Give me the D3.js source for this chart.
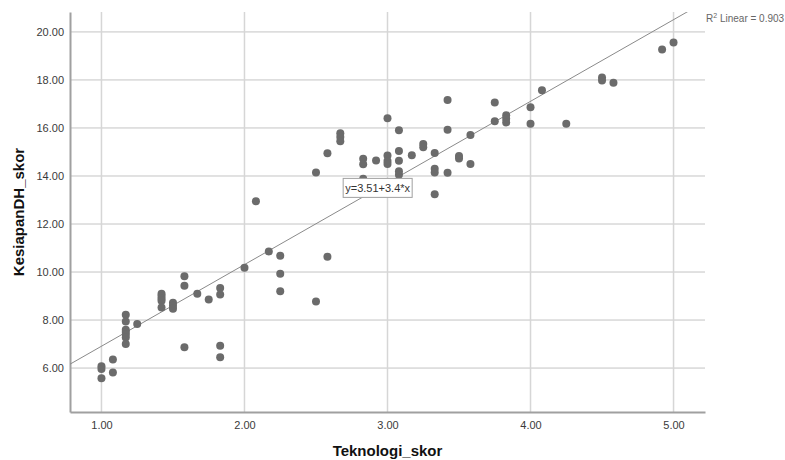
<!DOCTYPE html>
<html>
<head>
<meta charset="utf-8">
<script src="https://cdn.jsdelivr.net/npm/d3@7"></script>
<style>
  body { margin: 0; background: #fff; }
  text { font-family: "Liberation Sans", Arial, sans-serif; }
</style>
</head>
<body>
<div class="canvas"></div>
<script>
// data
const teknologi = [
    1.00, 1.00, 1.00, 1.08, 1.08,
    1.17, 1.17, 1.17, 1.17, 1.17, 1.17, 1.17, 1.25,
    1.42, 1.42, 1.42, 1.42, 1.42, 1.50, 1.50, 1.50,
    1.58, 1.58, 1.58, 1.67, 1.75, 1.83, 1.83, 1.83, 1.83,
    2.00, 2.08, 2.17, 2.25, 2.25, 2.25, 2.50, 2.50, 2.58, 2.58,
    2.67, 2.67, 2.67, 2.83, 2.83, 2.83, 2.92,
    3.00, 3.00, 3.00, 3.00, 3.08, 3.08, 3.08, 3.08, 3.08,
    3.17, 3.25, 3.25, 3.33, 3.33, 3.33, 3.33, 3.42, 3.42, 3.42,
    3.50, 3.50, 3.58, 3.58, 3.75, 3.75, 3.83, 3.83, 3.83,
    4.00, 4.00, 4.08, 4.25, 4.50, 4.50, 4.58, 4.92, 5.00
];
const kesiapan = [
    6.08, 5.96, 5.58, 6.36, 5.82,
    8.22, 7.94, 7.60, 7.50, 7.40, 7.27, 7.00, 7.83,
    9.10, 9.00, 8.90, 8.80, 8.52, 8.72, 8.60, 8.47,
    9.82, 9.43, 6.87, 9.10, 8.86, 9.33, 9.06, 6.93, 6.45,
    10.18, 12.95, 10.86, 10.68, 9.93, 9.20, 8.77, 14.14, 10.64, 14.95,
    15.78, 15.62, 15.45, 14.72, 14.49, 13.88, 14.65,
    16.40, 14.85, 14.62, 14.50, 15.90, 15.04, 14.63, 14.20, 14.05,
    14.86, 15.33, 15.20, 14.96, 14.30, 14.15, 13.24, 17.17, 15.93, 14.13,
    14.83, 14.73, 15.71, 14.50, 17.06, 16.28, 16.53, 16.38, 16.23,
    16.86, 16.18, 17.57, 16.18, 18.10, 17.98, 17.88, 19.27, 19.56
];

const xTicks = [1, 2, 3, 4, 5];
const yTicks = [6, 8, 10, 12, 14, 16, 18, 20];

// fit line  y = 3.51 + 3.4*x , R2 = 0.903
const intercept = 3.51;
const slope = 3.4;
const r2 = '0.903';

const width = 785, height = 460;
const margin = { top: 12, right: 80, bottom: 48, left: 70 };
const graphWidth = width - margin.left - margin.right;
const graphHeight = height - margin.top - margin.bottom;

const svg = d3.select('.canvas')
    .append('svg')
    .attr('width', width)
    .attr('height', height);

const graph = svg.append('g')
    .attr('transform', `translate(${margin.left},${margin.top})`);

// scales
const x = d3.scaleLinear().domain([0.78, 5.22]).range([0, graphWidth]);
const y = d3.scaleLinear().domain([4.17, 20.83]).range([graphHeight, 0]);

// grid lines
graph.append('g')
    .selectAll('line')
    .data(yTicks)
    .enter().append('line')
    .attr('x1', 0).attr('x2', graphWidth)
    .attr('y1', d => y(d)).attr('y2', d => y(d))
    .attr('stroke', '#c4c4c4')
    .attr('stroke-width', 1);

graph.append('g')
    .selectAll('line')
    .data(xTicks)
    .enter().append('line')
    .attr('x1', d => x(d)).attr('x2', d => x(d))
    .attr('y1', 0).attr('y2', graphHeight)
    .attr('stroke', '#d6d6d6')
    .attr('stroke-width', 1.5);

// axes
const xAxis = d3.axisBottom(x).tickValues(xTicks).tickSize(0).tickPadding(9)
    .tickFormat(d3.format('.2f'));
const yAxis = d3.axisLeft(y).tickValues(yTicks).tickSize(0).tickPadding(6)
    .tickFormat(d3.format('.2f'));

const xAxisGroup = graph.append('g')
    .attr('transform', `translate(0, ${graphHeight})`)
    .call(xAxis);
const yAxisGroup = graph.append('g').call(yAxis);

[xAxisGroup, yAxisGroup].forEach(g => {
    g.select('.domain').attr('stroke', '#a0a0a0').attr('stroke-width', 2);
    g.selectAll('text')
        .attr('font-size', 11)
        .attr('fill', '#3a3a3a')
        .attr('font-family', '"Liberation Sans", Arial, sans-serif');
});

// clip for the fit line
svg.append('clipPath').attr('id', 'plot-clip')
    .append('rect')
    .attr('width', graphWidth).attr('height', graphHeight);

const fit = d => intercept + slope * d;
graph.append('line')
    .attr('clip-path', 'url(#plot-clip)')
    .attr('x1', x(0.78)).attr('y1', y(fit(0.78)))
    .attr('x2', x(5.22)).attr('y2', y(fit(5.22)))
    .attr('stroke', '#8a8a8a')
    .attr('stroke-width', 1);

// points
graph.append('g')
    .selectAll('circle')
    .data(teknologi.map((t, i) => ({ t: t, k: kesiapan[i] })))
    .enter().append('circle')
    .attr('cx', d => x(d.t))
    .attr('cy', d => y(d.k))
    .attr('r', 4)
    .attr('fill', '#6b6b6b');

// equation label
const eq = graph.append('g')
    .attr('transform', `translate(${x(2.69)},${y(13.9)})`);
eq.append('rect')
    .attr('width', 69).attr('height', 19)
    .attr('fill', '#fff')
    .attr('stroke', '#a0a0a0');
eq.append('text')
    .attr('x', 34.5).attr('y', 13.5)
    .attr('text-anchor', 'middle')
    .attr('font-size', 11)
    .attr('fill', '#333')
    .text(`y=${intercept}+${slope}*x`);

// R2 label
const r2Text = svg.append('text')
    .attr('x', margin.left + graphWidth + 1)
    .attr('y', 22)
    .attr('font-size', 10)
    .attr('fill', '#666');
r2Text.append('tspan').text('R');
r2Text.append('tspan').attr('font-size', 7).attr('dy', -4).text('2');
r2Text.append('tspan').attr('dy', 4).text(' Linear = ' + r2);

// axis titles
svg.append('text')
    .attr('x', margin.left + graphWidth / 2)
    .attr('y', 456)
    .attr('text-anchor', 'middle')
    .attr('font-size', 15)
    .attr('font-weight', 'bold')
    .attr('fill', '#111')
    .text('Teknologi_skor');

svg.append('text')
    .attr('transform', `translate(24, ${margin.top + graphHeight / 2}) rotate(-90)`)
    .attr('text-anchor', 'middle')
    .attr('font-size', 15)
    .attr('font-weight', 'bold')
    .attr('fill', '#111')
    .text('KesiapanDH_skor');
</script>
</body>
</html>
